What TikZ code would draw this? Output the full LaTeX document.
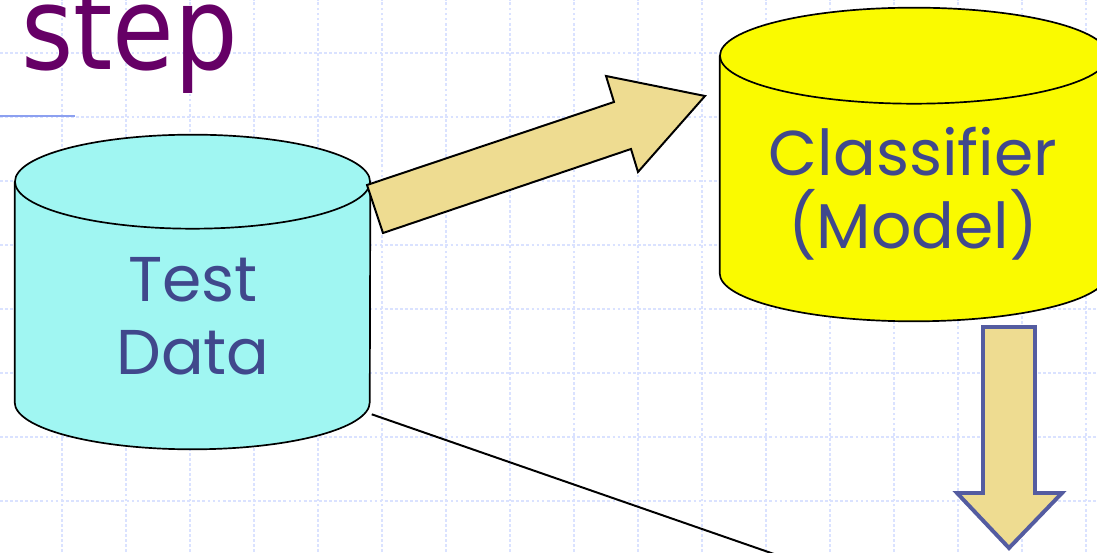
\documentclass[tikz,border=0pt]{standalone}
\usepackage{fontspec}
\usepackage{xcolor}
\usepackage{tikz}
\usetikzlibrary{positioning, calc}
\setmainfont{DejaVu Sans}
\newfontfamily\titlefont{DejaVu Sans}
\newfontfamily\dbfont{Poppins}
\definecolor{mypurple}{RGB}{102,0,102}
\definecolor{mytext}{RGB}{64,72,140}
\definecolor{mycyan}{RGB}{160,246,242}
\definecolor{myyellow}{RGB}{250,250,0}
\definecolor{mytan}{RGB}{238,220,145}
\definecolor{myblue}{RGB}{84,92,160}
\definecolor{gridblue}{RGB}{218,226,255}
\definecolor{rulerblue}{RGB}{140,160,240}
\tikzset{
  gridline/.style={gridblue, line width=0.8pt, dash pattern=on 2pt off 1.6pt},
  dbbox/.style={rectangle, inner sep=0pt, draw=none},
  dbline/.style={black, line width=1.2pt},
  dblabel/.style={font=\dbfont\fontsize{45}{52}\selectfont, text=mytext,
    align=center, inner sep=0pt},
  fatarrow/.style={fill=mytan, draw=black, line width=1.4pt, line join=miter},
  downarrow/.style={fill=mytan, draw=myblue, line width=2.8pt, line join=miter},
  link/.style={black, line width=1.4pt}
}

\begin{document}
\begin{tikzpicture}[x=0.025cm, y=0.025cm]
  \useasboundingbox (0,0) rectangle (1097,552);
  \clip (0,0) rectangle (1097,552);

  % background grid
  \foreach \gx in {-2,62,...,1100}
    \draw[gridline] (\gx,0) -- (\gx,552);
  \foreach \gy in {51,115,...,520}
    \draw[gridline] (0,\gy) -- (1097,\gy);
  \draw[rulerblue, line width=1.4pt] (0,436) -- (75,436);

  % title
  \node[anchor=base west, inner sep=0pt, text=mypurple,
    font=\titlefont\fontsize{82}{90}\selectfont] (title) at (21,482)
    {\scalebox{0.87}[1]{step}};

  % test data cylinder
  \node[dbbox, minimum width=8.875cm, minimum height=5.5cm] (testdb) at (192.5,260) {};
  \fill[mycyan] (testdb.south west)
    arc[start angle=180, end angle=360, x radius=4.4375cm, y radius=1.175cm]
    -- (testdb.north east)
    arc[start angle=0, end angle=180, x radius=4.4375cm, y radius=1.175cm] -- cycle;
  \draw[dbline] (testdb.north west) -- (testdb.south west)
    arc[start angle=180, end angle=360, x radius=4.4375cm, y radius=1.175cm]
    -- (testdb.north east);
  \draw[dbline] (testdb.north) ellipse[x radius=4.4375cm, y radius=1.175cm];
  \node[dblabel] (testlbl) at (193,236) {Test\\Data};

  % classifier cylinder
  \node[dbbox, minimum width=9.7cm, minimum height=5.425cm] (model) at (914,387.5) {};
  \fill[myyellow] (model.south west)
    arc[start angle=180, end angle=360, x radius=4.85cm, y radius=1.2cm]
    -- (model.north east)
    arc[start angle=0, end angle=180, x radius=4.85cm, y radius=1.2cm] -- cycle;
  \draw[dbline] (model.north west) -- (model.south west)
    arc[start angle=180, end angle=360, x radius=4.85cm, y radius=1.2cm]
    -- (model.north east);
  \draw[dbline] (model.north) ellipse[x radius=4.85cm, y radius=1.2cm];
  \node[dblabel] (modellbl) at (913,358) {Classifier\\(Model)};

  % block arrows
  \draw[fatarrow] (383,319) -- (367,367) -- (614,450) -- (606,476)
    -- (705,456) -- (638,380) -- (631,403) -- cycle;
  \draw[downarrow] (983,225) -- (1035,225) -- (1035,59) -- (1062,59)
    -- (1009,4) -- (957,59) -- (983,59) -- cycle;

  % line leaving the test data
  \coordinate (linkend) at (774,-2);
  \draw[link] ([xshift=1pt, yshift=-0.3cm]testdb.south east) -- (linkend);
\end{tikzpicture}
\end{document}
